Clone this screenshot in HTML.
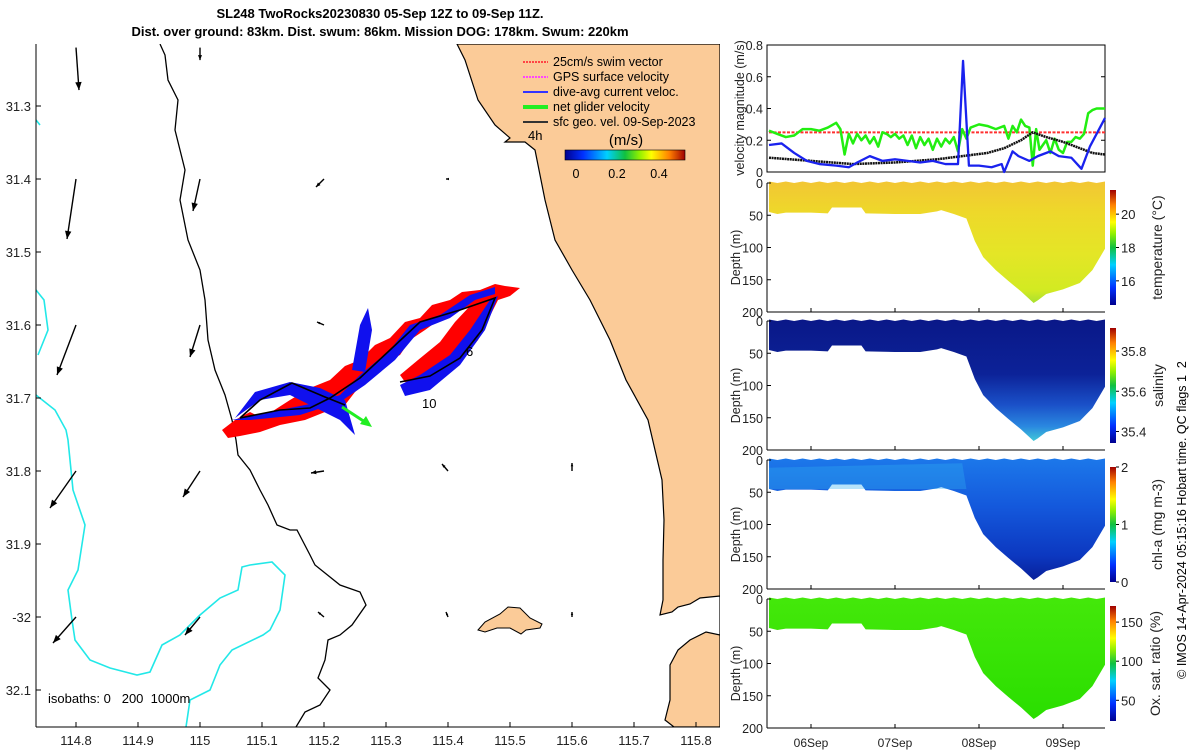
<!DOCTYPE html>
<html><head><meta charset="utf-8"><style>
body{margin:0;background:#fff;width:1200px;height:750px;overflow:hidden}
svg{font-family:"Liberation Sans",sans-serif;display:block}
.pre{white-space:pre}
</style></head><body>
<svg id="fig" width="1200" height="750" viewBox="0 0 1200 750" xmlns="http://www.w3.org/2000/svg">
<defs>
<linearGradient id="jet" x1="0" y1="1" x2="0" y2="0">
<stop offset="0" stop-color="#00008f"/><stop offset="0.15" stop-color="#0030ff"/><stop offset="0.35" stop-color="#00d0ff"/><stop offset="0.5" stop-color="#10c040"/><stop offset="0.62" stop-color="#90f000"/><stop offset="0.72" stop-color="#ffff00"/><stop offset="0.87" stop-color="#ff8000"/><stop offset="1" stop-color="#a00000"/></linearGradient>
<linearGradient id="jeth" x1="0" y1="0" x2="1" y2="0">
<stop offset="0" stop-color="#00008f"/><stop offset="0.15" stop-color="#0030ff"/><stop offset="0.35" stop-color="#00d0ff"/><stop offset="0.5" stop-color="#10c040"/><stop offset="0.62" stop-color="#90f000"/><stop offset="0.72" stop-color="#ffff00"/><stop offset="0.87" stop-color="#ff8000"/><stop offset="1" stop-color="#a00000"/></linearGradient>
<linearGradient id="tempG" x1="0" y1="0" x2="0" y2="1"><stop offset="0" stop-color="#f2c634"/><stop offset="0.25" stop-color="#eed82a"/><stop offset="0.6" stop-color="#e4e626"/><stop offset="0.9" stop-color="#d2ea22"/><stop offset="1" stop-color="#a8e030"/></linearGradient>
<linearGradient id="salG" x1="0" y1="0" x2="0" y2="1"><stop offset="0" stop-color="#0a1888"/><stop offset="0.45" stop-color="#0c2298"/><stop offset="0.7" stop-color="#1a50c8"/><stop offset="0.88" stop-color="#2a88e0"/><stop offset="1" stop-color="#40c8d8"/></linearGradient>
<linearGradient id="chlG" x1="0" y1="0" x2="0" y2="1"><stop offset="0" stop-color="#1c78ea"/><stop offset="0.4" stop-color="#1458dc"/><stop offset="0.8" stop-color="#0c38c0"/><stop offset="1" stop-color="#08209a"/></linearGradient>
<linearGradient id="oxG" x1="0" y1="0" x2="0" y2="1"><stop offset="0" stop-color="#44e80a"/><stop offset="1" stop-color="#2ade00"/></linearGradient>
<clipPath id="mapclip"><rect x="36" y="44" width="684" height="683"/></clipPath>
</defs>

<text x="380" y="18" text-anchor="middle" font-size="13" font-weight="bold">SL248 TwoRocks20230830 05-Sep 12Z to 09-Sep 11Z.</text>
<text x="380" y="36" text-anchor="middle" font-size="13" font-weight="bold">Dist. over ground: 83km. Dist. swum: 86km. Mission DOG: 178km. Swum: 220km</text>

<g id="map" clip-path="url(#mapclip)">
<path fill="#fbcb98" stroke="#000" stroke-width="1.2" d="M457,44 L465,60 L478,100 L495,125 L510,138 L505,142 L525,142 L535,150 L545,200 L555,240 L572,270 L590,300 L610,340 L626,380 L648,420 L662,480 L664,520 L663,560 L663,600 L660,615 L672,612 L678,607 L690,604 L700,598 L720,596 L720,635 L706,632 L690,640 L678,650 L670,665 L670,700 L665,720 L674,727 L720,727 L720,44 Z"/>
<path fill="#fbcb98" stroke="#000" stroke-width="1" d="M478,630 L485,622 L500,614 L508,607 L520,608 L530,618 L542,624 L540,628 L526,630 L521,634 L510,628 L497,628 L485,632 Z"/>
<path fill="none" stroke="#000" stroke-width="1.3" d="M160,44 L165,55 L168,80 L178,100 L175,130 L185,170 L180,200 L188,240 L200,270 L205,300 L208,340 L215,370 L225,395 L232,420 L236,440 L238,455 L250,470 L260,490 L268,505 L277,525 L290,530 L297,530 L310,555 L315,565 L340,585 L360,592 L366,605 L352,625 L340,635 L328,640 L325,660 L318,678 L330,690 L320,705 L305,712 L296,727"/>
<path fill="none" stroke="#22e8e8" stroke-width="1.6" d="M36,290 L44,300 L48,330 L38,355 M36,120 L40,125 M36,395 L55,410 L66,430 L68,440 L73,490 L85,525 L78,570 L68,590 L72,620 L75,640 L90,660 L110,668 L137,675 L150,672 L162,645 L180,635 L200,615 L220,598 L238,590 L242,567 L250,565 L272,562 L285,575 L280,610 L270,630 L263,635 L232,650 L220,665 L210,690 L190,700 L186,727"/>
<g>
<path fill="#ff0000" d="M222,430 L235,420 L250,412 L262,418 L290,400 L310,388 L330,380 L345,366 L360,360 L375,345 L390,338 L405,322 L420,318 L432,305 L450,300 L462,292 L480,290 L495,284 L505,286 L520,288 L510,296 L498,300 L488,320 L478,340 L466,355 L450,370 L432,380 L405,382 L400,375 L418,360 L440,342 L455,322 L470,306 L450,312 L425,330 L410,340 L400,355 L385,362 L372,378 L355,392 L345,405 L330,410 L305,420 L280,425 L260,432 L240,436 L228,438 Z"/>
<path fill="#1010ee" d="M235,418 L255,392 L290,382 L320,388 L345,400 L355,435 L340,420 L320,410 L290,395 L260,400 Z M232,420 L280,410 L320,402 L340,395 L360,375 L390,350 L410,325 L440,315 L470,295 L495,287 L495,294 L475,300 L450,318 L420,330 L395,360 L365,385 L340,402 L300,415 L250,420 Z M400,385 L420,375 L450,355 L470,330 L490,300 L498,296 L485,330 L460,365 L430,390 L405,396 Z M352,370 L360,325 L368,308 L372,330 L365,372 Z"/>
<path fill="none" stroke="#000" stroke-width="1.6" d="M240,418 L260,400 L292,383 L325,397 L345,405 M240,418 L280,410 L310,408 L330,398 L360,378 L390,350 L420,322 L460,310 L495,298 L482,330 L460,358 L430,376 L400,382"/>
<line x1="342" y1="407" x2="368" y2="424" stroke="#22ee22" stroke-width="3"/>
<path d="M372,427 L360,424 L366,416 Z" fill="#22ee22"/>
</g>
<text x="528" y="140" font-size="13">4h</text>
<text x="466" y="356" font-size="13">6</text>
<text x="422" y="408" font-size="13">10</text>
<g id="geoArrows"></g>
<text x="48" y="703" font-size="13" class="pre" xml:space="preserve">isobaths: 0   200  1000m</text>
</g>
<line x1="36" y1="44" x2="36" y2="727" stroke="#000"/>
<line x1="36" y1="727" x2="720" y2="727" stroke="#000"/>
<g id="mapTicks" font-size="13" fill="#222"></g>

<g font-size="12.5">
<line x1="523" y1="62" x2="548" y2="62" stroke="#f44" stroke-width="2" stroke-dasharray="2,1"/><text x="553" y="66">25cm/s swim vector</text>
<line x1="523" y1="77" x2="548" y2="77" stroke="#f4f" stroke-width="2" stroke-dasharray="2,1"/><text x="553" y="81">GPS surface velocity</text>
<line x1="523" y1="92" x2="548" y2="92" stroke="#33f" stroke-width="2"/><text x="553" y="96">dive-avg current veloc.</text>
<line x1="523" y1="107" x2="548" y2="107" stroke="#2e2" stroke-width="4"/><text x="553" y="111">net glider velocity</text>
<line x1="523" y1="122" x2="548" y2="122" stroke="#333" stroke-width="2"/><text x="553" y="126">sfc geo. vel. 09-Sep-2023</text>
<text x="626" y="145" font-size="15" text-anchor="middle">(m/s)</text>
<rect x="565" y="150" width="120" height="10" fill="url(#jeth)" stroke="#000" stroke-width="0.6"/>
<text x="576" y="178" text-anchor="middle">0</text><text x="617" y="178" text-anchor="middle">0.2</text><text x="659" y="178" text-anchor="middle">0.4</text>
</g>

<g id="vel"></g>
<g id="sections"></g>
<text transform="translate(1186,520) rotate(-90)" text-anchor="middle" font-size="12.5" class="pre" xml:space="preserve">© IMOS 14-Apr-2024 05:15:16 Hobart time. QC flags 1  2</text>
</svg>
<script>
const NS='http://www.w3.org/2000/svg';
function mk(tag,attrs,parent){const e=document.createElementNS(NS,tag);for(const k in attrs)e.setAttribute(k,attrs[k]);(parent||document.getElementById('fig')).appendChild(e);return e;}

// ---- map ticks ----
const lonTicks=[114.8,114.9,115,115.1,115.2,115.3,115.4,115.5,115.6,115.7,115.8];
const latTicks=[31.3,31.4,31.5,31.6,31.7,31.8,31.9,32,32.1];
const latLabels=['31.3','31.4','31.5','31.6','31.7','31.8','31.9','-32','32.1'];
const lonX=v=>76+(v-114.8)*620;
const latY=v=>471+(v-31.8)*730;
const mt=document.getElementById('mapTicks');
lonTicks.forEach(v=>{const x=lonX(v);mk('line',{x1:x,y1:727,x2:x,y2:722,stroke:'#000'},mt);const t=mk('text',{x:x,y:745,'text-anchor':'middle'},mt);t.textContent=String(v);});
latTicks.forEach((v,i)=>{const y=latY(v);mk('line',{x1:36,y1:y,x2:41,y2:y,stroke:'#000'},mt);const t=mk('text',{x:31,y:y+5,'text-anchor':'end'},mt);t.textContent=latLabels[i];});

// ---- geostrophic arrows (lon, lat, u, v in m/s) ----
const arrLon=[114.8,114.8,114.8,114.8,114.8, 115,115,115,115,115, 115.2,115.2,115.2,115.2, 115.4,115.4,115.4, 115.6,115.6];
const arrLat=[31.22,31.4,31.6,31.8,32.0, 31.22,31.4,31.6,31.8,32.0, 31.4,31.6,31.8,32.0, 31.4,31.8,32.0, 31.8,32.0];
const arrU=[0.012,-0.036,-0.076,-0.104,-0.092, 0,-0.028,-0.04,-0.068,-0.06, -0.032,-0.028,-0.052,-0.024, -0.008,-0.024,-0.008, 0,0];
const arrV=[-0.17,-0.24,-0.2,-0.148,-0.104, -0.05,-0.128,-0.128,-0.104,-0.072, -0.032,0.012,-0.008,0.02, 0,0.028,0.02, 0.032,0.02];
const ga=document.getElementById('geoArrows');
arrLon.forEach((lo,i)=>{
  const x0=lonX(lo),y0=latY(arrLat[i]);
  const dx=arrU[i]*250,dy=-arrV[i]*250;
  const x1=x0+dx,y1=y0+dy;
  const l=mk('line',{x1:x0,y1:y0,x2:x1,y2:y1,stroke:'#000','stroke-width':1.4},ga);
  
  
  const L=Math.hypot(dx,dy)||1,ux=dx/L,uy=dy/L,h=Math.max(3,Math.min(8,L*0.4));
  mk('path',{d:`M${x1},${y1} L${x1-h*ux-h*0.4*uy},${y1-h*uy+h*0.4*ux} L${x1-h*ux+h*0.4*uy},${y1-h*uy-h*0.4*ux} Z`,fill:'#000'},ga);
});

// ---- time axis (days since 05-Sep 12Z) ----
const X0=769,PXD=84,PL=767,PR=1105;
const tx=t=>X0+t*PXD;
const dayTicks=[0.5,1.5,2.5,3.5];
const dayLabels=['06Sep','07Sep','08Sep','09Sep'];

// ---- velocity panel ----
const velTicks=[0,0.2,0.4,0.6,0.8];
const swimT=[0,4];
const swimV=[0.25,0.25];
const greenT=[0,0.1,0.2,0.3,0.4,0.5,0.6,0.7,0.8,0.85,0.9,0.95,1.0,1.05,1.1,1.15,1.2,1.25,1.3,1.35,1.4,1.45,1.5,1.55,1.6,1.65,1.7,1.75,1.8,1.85,1.9,1.95,2.0,2.05,2.1,2.15,2.2,2.25,2.3,2.35,2.4,2.5,2.6,2.7,2.8,2.85,2.9,2.95,3.0,3.05,3.1,3.14,3.18,3.22,3.3,3.35,3.4,3.45,3.5,3.55,3.6,3.65,3.7,3.75,3.8,3.85,3.9,4.0];
const greenV=[0.26,0.24,0.22,0.23,0.27,0.27,0.26,0.28,0.31,0.27,0.11,0.24,0.18,0.24,0.2,0.23,0.18,0.22,0.16,0.25,0.24,0.22,0.24,0.21,0.23,0.17,0.23,0.15,0.22,0.17,0.21,0.14,0.21,0.16,0.21,0.18,0.22,0.13,0.27,0.21,0.28,0.3,0.29,0.27,0.29,0.21,0.29,0.25,0.33,0.29,0.28,0.04,0.27,0.14,0.2,0.12,0.21,0.14,0.12,0.19,0.19,0.22,0.21,0.24,0.37,0.39,0.4,0.4];
const blueT=[0,0.15,0.3,0.45,0.6,0.8,0.95,1.05,1.2,1.35,1.5,1.65,1.8,1.95,2.1,2.25,2.31,2.38,2.5,2.65,2.77,2.8,2.9,2.97,3.1,3.2,3.35,3.45,3.6,3.72,3.82,4.0];
const blueV=[0.17,0.18,0.12,0.07,0.05,0.04,0.03,0.06,0.1,0.07,0.08,0.07,0.06,0.07,0.05,0.05,0.7,0.04,0.04,0.03,0.05,0.0,0.13,0.1,0.07,0.1,0.13,0.1,0.09,0.02,0.16,0.34];
const blackT=[0,0.5,1,1.5,2,2.3,2.6,2.8,3.0,3.14,3.3,3.5,3.7,3.85,4.0];
const blackV=[0.09,0.07,0.05,0.06,0.08,0.1,0.12,0.15,0.2,0.25,0.22,0.19,0.15,0.12,0.11];
const VT=45,VB=172;
const vy=v=>VB-(v/0.8)*(VB-VT);
const vel=document.getElementById('vel');
mk('rect',{x:PL,y:VT,width:PR-PL,height:VB-VT,fill:'#fff',stroke:'#000'},vel);
velTicks.forEach(v=>{const y=vy(v);mk('line',{x1:PL,y1:y,x2:PL+4,y2:y,stroke:'#000'},vel);mk('line',{x1:PR,y1:y,x2:PR-4,y2:y,stroke:'#000'},vel);const t=mk('text',{x:PL-4,y:y+5,'text-anchor':'end','font-size':12.5,fill:'#222'},vel);t.textContent=v===0?'0':String(v);});
function line(T,V,col,w,dash,name){let d='';T.forEach((t,i)=>{d+=(i?'L':'M')+tx(t)+','+vy(V[i])});const p=mk('path',{d:d,fill:'none',stroke:col,'stroke-width':w,'stroke-linejoin':'round'},vel);if(dash)p.setAttribute('stroke-dasharray',dash);}
line(swimT,swimV,'#ff3030',2,'3,1.5','swim-speed-line');
line(greenT,greenV,'#22ee11',2.5,null,'net-glider-velocity-line');
line(blackT,blackV,'#111',2.5,'2,0.6','geostrophic-velocity-line');
line(blueT,blueV,'#1a22ee',2.3,null,'dive-avg-current-line');
const vl=mk('text',{transform:'translate(744,108) rotate(-90)','text-anchor':'middle','font-size':12.5,fill:'#222'},vel);vl.textContent='velocity magnitude (m/s)';

// ---- sections ----
const depthTicks=[0,50,100,150,200];
const bottomT=[0,0.1,0.2,0.5,0.7,0.75,1.1,1.15,1.5,1.8,2.0,2.05,2.2,2.35,2.45,2.55,2.7,2.85,3.0,3.1,3.15,3.2,3.3,3.5,3.7,3.85,4.0];
const bottomD=[45,48,46,46,47,38,38,47,48,48,44,42,48,55,90,115,135,152,168,180,186,182,172,165,155,135,102];
const panels=[
 {name:'temperature',top:183,fill:'url(#tempG)',label:'temperature (°C)',cbTicks:['20','18','16'],cbVals:[0.79,0.5,0.21],lx:1162},
 {name:'salinity',top:321,fill:'url(#salG)',label:'salinity',cbTicks:['35.8','35.6','35.4'],cbVals:[0.8,0.45,0.1],lx:1163},
 {name:'chl-a',top:460,fill:'url(#chlG)',label:'chl-a (mg m-3)',cbTicks:['2','1','0'],cbVals:[1,0.5,0],lx:1162},
 {name:'oxygen',top:599,fill:'url(#oxG)',label:'Ox. sat. ratio (%)',cbTicks:['150','100','50'],cbVals:[0.86,0.52,0.18],lx:1160}
];
const PH=129;
const sec=document.getElementById('sections');
panels.forEach((p,pi)=>{
  const g=mk('g',{},sec);
  
  
  const dy=d=>p.top+d/200*PH;
  let d='M'+tx(bottomT[0])+','+dy(0);
  for(let i=0;i<=40;i++){const t=i*0.1;d+='L'+tx(t)+','+(dy(0)-(i%2?0:1.5));}
  for(let i=bottomT.length-1;i>=0;i--)d+='L'+tx(bottomT[i])+','+dy(bottomD[i]);
  d+='Z';
  mk('path',{d:d,fill:p.fill},g);
  if(pi===2){mk('path',{d:`M${tx(0)},${dy(12)} L${tx(2.3)},${dy(5)} L${tx(2.35)},${dy(45)} L${tx(0)},${dy(45)} Z`,fill:'#30b0f0',opacity:0.35},g);}
  mk('line',{x1:PL,y1:p.top,x2:PL,y2:p.top+PH,stroke:'#000'},g);
  mk('line',{x1:PL,y1:p.top+PH,x2:PR,y2:p.top+PH,stroke:'#000'},g);
  depthTicks.forEach(v=>{const y=dy(v);mk('line',{x1:PL,y1:y,x2:PL+4,y2:y,stroke:'#000'},g);const t=mk('text',{x:PL-4,y:y+5,'text-anchor':'end','font-size':12.5,fill:'#222'},g);t.textContent=String(v);});
  dayTicks.forEach(t=>{mk('line',{x1:tx(t),y1:p.top+PH,x2:tx(t),y2:p.top+PH-4,stroke:'#000'},g);});
  const yl=mk('text',{transform:`translate(740,${p.top+PH/2+10}) rotate(-90)`,'text-anchor':'middle','font-size':12.5,fill:'#222'},g);yl.textContent='Depth (m)';
  const cbT=p.top+7,cbH=115;
  mk('rect',{x:1110,y:cbT,width:6,height:cbH,fill:'url(#jet)'},g);
  p.cbTicks.forEach((s,i)=>{const y=cbT+cbH*(1-p.cbVals[i]);mk('line',{x1:1116,y1:y,x2:1119,y2:y,stroke:'#000'},g);const t=mk('text',{x:1121,y:y+5,'font-size':13,fill:'#222'},g);t.textContent=s;});
  const cl=mk('text',{transform:`translate(${p.lx},${cbT+cbH/2}) rotate(-90)`,'text-anchor':'middle','font-size':14,fill:'#222'},g);cl.textContent=p.label;
});
dayTicks.forEach((t,i)=>{const e=mk('text',{x:tx(t),y:747,'text-anchor':'middle','font-size':12,fill:'#222'},sec);e.textContent=dayLabels[i];});
</script>
</body></html>
